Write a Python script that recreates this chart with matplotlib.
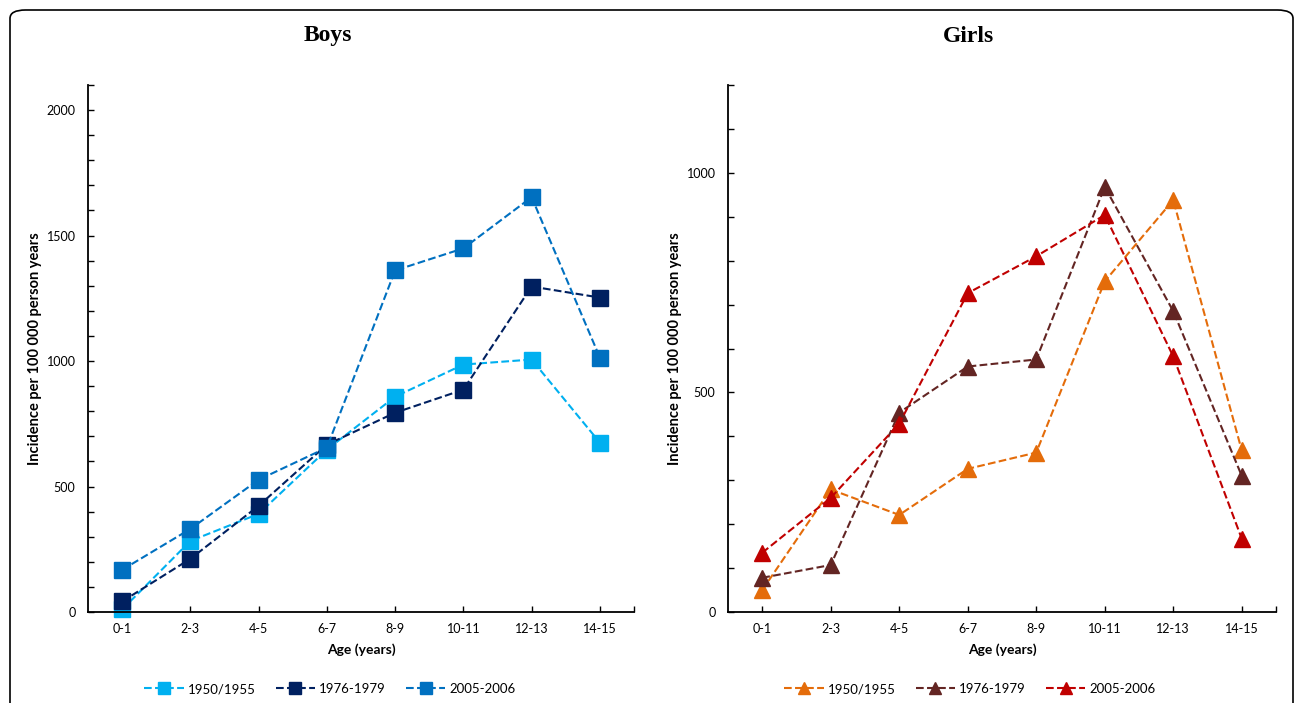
import numpy as np
import matplotlib
matplotlib.use("Agg")
import matplotlib.pyplot as plt
from matplotlib.patches import FancyBboxPatch
from matplotlib.ticker import MultipleLocator, FixedLocator

plt.rcParams["font.family"] = ["Lato", "DejaVu Sans"]

# Data
ages = ["0-1", "2-3", "4-5", "6-7", "8-9", "10-11", "12-13", "14-15"]
periods = ["1950/1955", "1976-1979", "2005-2006"]

boys_1950 = [10, 283, 391, 647, 858, 986, 1006, 675]
boys_1976 = [42, 212, 423, 667, 794, 886, 1297, 1253]
boys_2005 = [168, 331, 527, 655, 1361, 1449, 1653, 1014]

girls_1950 = [50, 279, 221, 326, 363, 753, 938, 368]
girls_1976 = [78, 107, 454, 559, 575, 968, 685, 310]
girls_2005 = [135, 260, 429, 726, 810, 904, 582, 167]

boys_colors = ["#00B0F0", "#002060", "#0070C0"]
girls_colors = ["#E46C0A", "#632523", "#C00000"]

fig = plt.figure(figsize=(12.95, 7.03), dpi=100)

# rounded frame around the whole figure
frame = FancyBboxPatch((10 / 1295, -0.05), (1293 - 10) / 1295, (1 - 10 / 703) + 0.05,
                       boxstyle="round,pad=0,rounding_size=0.012",
                       transform=fig.transFigure, fill=False, ec="black", lw=1.2)
fig.patches.append(frame)

ax1 = fig.add_axes([88 / 1295, 91 / 703, 546 / 1295, 527 / 703])
ax2 = fig.add_axes([728 / 1295, 91 / 703, 548 / 1295, 527 / 703])

x = np.arange(len(ages))


def style_axis(ax, ymax):
    ax.set_xlim(-0.5, 7.5)
    ax.set_ylim(0, ymax)
    ax.spines["top"].set_visible(False)
    ax.spines["right"].set_visible(False)
    ax.spines["left"].set_linewidth(1.3)
    ax.spines["bottom"].set_linewidth(1.3)
    ax.set_xticks(x)
    ax.set_xticklabels(ages)
    ax.xaxis.set_minor_locator(FixedLocator([7.5]))
    ax.yaxis.set_major_locator(MultipleLocator(500))
    ax.yaxis.set_minor_locator(MultipleLocator(100))
    ax.tick_params(axis="both", which="major", direction="in", length=4, width=1,
                   labelsize=9, pad=8)
    ax.tick_params(axis="both", which="minor", direction="in", length=4, width=1)
    ax.tick_params(axis="y", which="major", pad=9)
    ax.set_xlabel("Age (years)", fontsize=10, fontweight="bold", labelpad=6)
    ax.set_ylabel("Incidence per 100 000 person years", fontsize=10.5, fontweight="bold",
                  labelpad=3.5)


# Boys
for vals, lab, col in zip([boys_1950, boys_1976, boys_2005], periods, boys_colors):
    ax1.plot(x, vals, linestyle="--", color=col, marker="s", markersize=11.5,
             linewidth=1.5, label=lab, clip_on=False)
style_axis(ax1, 2100)

# Girls
for vals, lab, col in zip([girls_1950, girls_1976, girls_2005], periods, girls_colors):
    ax2.plot(x, vals, linestyle="--", color=col, marker="^", markersize=11,
             linewidth=1.5, label=lab, clip_on=False)
style_axis(ax2, 1200)

fig.text(328 / 1295, 1 - 35 / 703, "Boys", ha="center", va="center", fontsize=17,
         fontweight="bold", family="Liberation Serif")
fig.text(968 / 1295, 1 - 36 / 703, "Girls", ha="center", va="center", fontsize=17,
         fontweight="bold", family="Liberation Serif")

for ax, cx in [(ax1, 330), (ax2, 970)]:
    h, l = ax.get_legend_handles_labels()
    fig.legend(h, l, loc="center", bbox_to_anchor=(cx / 1295, 1 - 689 / 703), ncol=3,
               frameon=False, fontsize=9.5, markerscale=0.75, handlelength=3.0,
               handletextpad=0.3, columnspacing=1.5)

fig.savefig("out.png", dpi=100)
